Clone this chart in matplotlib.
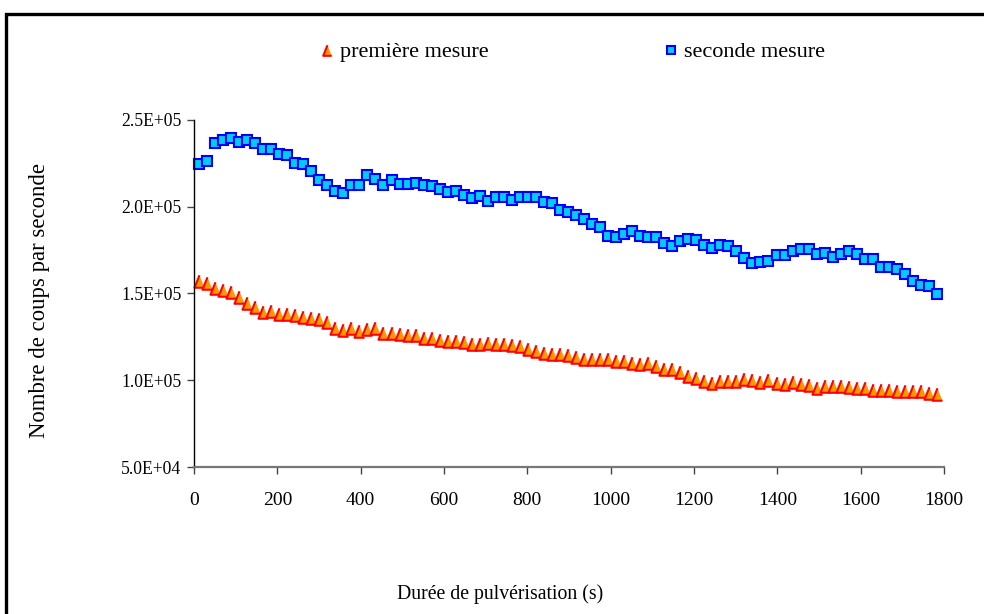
import matplotlib
matplotlib.use('Agg')
import matplotlib.pyplot as plt
from matplotlib.patches import Rectangle
import numpy as np

plt.rcParams['font.family'] = 'Liberation Serif'

# sampling: one point every ~19.25 s, starting at 12 s
t0 = 12.0
dt = 19.25

# first measurement (counts per second)
premiere = [157000, 156200, 153200, 152000, 150900, 148200, 144600, 142300, 139200, 139900,
            138200, 138000, 137600, 136600, 135700, 135300, 133500, 130300, 128900, 130300,
            128200, 129300, 130300, 127300, 127300, 126500, 125800, 125800, 124500, 124500,
            123200, 122600, 122600, 121900, 120700, 121100, 121500, 120700, 120700, 120100,
            119700, 118000, 116900, 115700, 115000, 115300, 114600, 113400, 112400, 112100,
            112100, 112100, 111300, 111300, 110100, 109200, 109800, 108200, 106300, 106300,
            104600, 102600, 101500, 99400, 98200, 99600, 99600, 99600, 100500, 100400,
            98800, 100100, 98400, 98000, 99000, 97800, 97300, 95700, 96900, 96900,
            96700, 96100, 95700, 95700, 94200, 94600, 94400, 93800, 94000, 93800,
            93600, 92600, 92300]

# second measurement (counts per second)
seconde = [224600, 226500, 236900, 238500, 239800, 237500, 238500, 236900, 233500, 233500,
           230400, 229600, 225000, 224400, 220400, 215400, 212400, 209300, 208100, 212400,
           212400, 218100, 215800, 212400, 215400, 212900, 212900, 213900, 212500, 212000,
           210400, 208300, 208900, 207000, 205200, 206200, 203100, 205600, 205400, 203900,
           205600, 205800, 205800, 202700, 202000, 198100, 197000, 195100, 192800, 190100,
           188500, 183100, 182400, 184300, 186200, 183100, 182400, 182400, 178900, 177400,
           180100, 181200, 180800, 178000, 176100, 178000, 177400, 174700, 170300, 167400,
           168300, 168900, 172000, 172400, 174300, 175800, 175800, 172800, 173200, 171200,
           172800, 174700, 172800, 169700, 169700, 165400, 165400, 164000, 161200, 157000,
           155100, 154300, 149700]

t = t0 + dt * np.arange(len(seconde))

x_ticks = list(range(0, 1801, 200))
y_ticks = [5e4, 1e5, 1.5e5, 2e5, 2.5e5]

fig = plt.figure(figsize=(9.84, 6.14), dpi=100)
ax = fig.add_axes([194 / 984, 1 - 467 / 614, 750 / 984, 347 / 614])

tri = [(0, 1), (-0.8, -1), (0.8, -1)]
h1, = ax.plot(t, premiere, linestyle='none', marker=tri, ms=9, mfc='#FF9900',
              mec='#FF0000', mew=1.5, clip_on=False, label='première mesure')
h2, = ax.plot(t, seconde, linestyle='none', marker='s', ms=7.2, mfc='#00CCFF',
              mec='#0000FF', mew=1.5, clip_on=False, label='seconde mesure')

ax.set_xlim(0, 1800)
ax.set_ylim(5e4, 2.5e5)
ax.set_xticks(x_ticks)
ax.set_yticks(y_ticks)
ax.set_yticklabels([f'{v:.1E}' for v in y_ticks])

for side in ('top', 'right'):
    ax.spines[side].set_visible(False)
ax.spines['left'].set_color('black')
ax.spines['left'].set_linewidth(1.0)
ax.spines['bottom'].set_color('#777777')
ax.spines['bottom'].set_linewidth(1.6)
ax.tick_params(axis='y', direction='out', length=5, width=1, color='#444444',
               labelsize=12.7, pad=4)
ax.tick_params(axis='x', direction='out', length=5, width=1, color='#444444',
               labelsize=14, pad=13)

fig.text(500 / 984, 1 - 594 / 614, 'Durée de pulvérisation (s)', ha='center', va='center',
         fontsize=14.2)
fig.text(40 / 984, 1 - 301 / 614, 'Nombre de coups par seconde', ha='center', va='center',
         rotation=90, fontsize=16.4)

fig.legend(handles=[h1, h2], loc='center left', bbox_to_anchor=(320 / 984, 1 - 52 / 614),
           ncol=2, frameon=False, fontsize=16, handlelength=0.6, handletextpad=0.3,
           columnspacing=7.9, borderpad=0, borderaxespad=0, markerscale=0.85)

# outer frame of the chart area
fig.add_artist(Rectangle((6 / 984, -0.1), 1.2, 1.1 - 14 / 614, transform=fig.transFigure,
                         fill=False, ec='black', lw=2.4))

fig.savefig('out.png', dpi=100, facecolor='white')
